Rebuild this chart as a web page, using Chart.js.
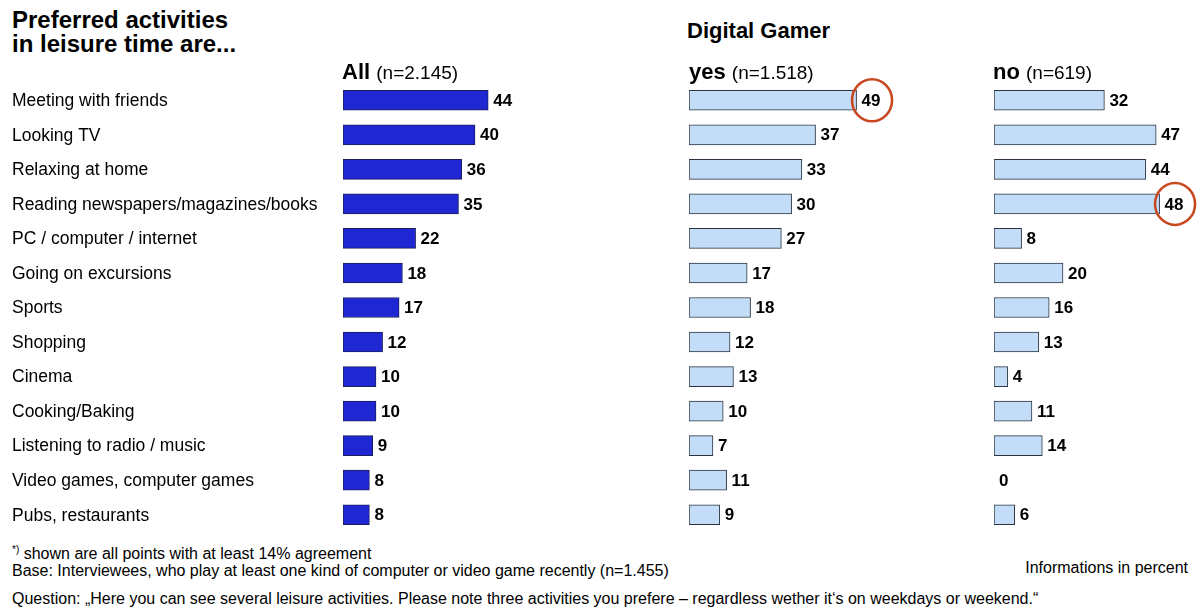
<!DOCTYPE html>
<html>
<head>
<meta charset="utf-8">
<script src="https://cdn.jsdelivr.net/npm/chart.js@4.4.1/dist/chart.umd.min.js"></script>
<style>
  body { margin: 0; width: 1200px; height: 610px; background: #fff; overflow: hidden;
         font-family: "Liberation Sans", Arial, sans-serif; color: #000; position: relative; }
  .t { position: absolute; white-space: nowrap; }
  .box { position: absolute; }
  .head { font-size: 22px; font-weight: bold; }
  .head span { font-weight: normal; font-size: 19px; }
  .foot { font-size: 16px; }
</style>
</head>
<body>
<div class="t" style="left:12px;top:8px;font-size:24px;font-weight:bold;line-height:24px;">Preferred activities<br>in leisure time are...</div>
<div class="t head" style="left:687px;top:18px;">Digital Gamer</div>

<div class="box" style="left:0;top:63px;width:560px;height:469px;"><canvas id="cAll"></canvas></div>
<div class="box" style="left:680px;top:63px;width:240px;height:469px;"><canvas id="cYes"></canvas></div>
<div class="box" style="left:985px;top:63px;width:215px;height:469px;"><canvas id="cNo"></canvas></div>

<div class="t head" style="left:342px;top:59px;">All <span>(n=2.145)</span></div>
<div class="t head" style="left:689px;top:59px;">yes <span>(n=1.518)</span></div>
<div class="t head" style="left:993px;top:59px;">no <span>(n=619)</span></div>

<div class="t foot" style="left:12px;top:544px;"><sup style="font-size:10px;">*)</sup> shown are all points with at least 14% agreement</div>
<div class="t foot" style="left:12px;top:562px;">Base: Interviewees, who play at least one kind of computer or video game recently (n=1.455)</div>
<div class="t foot" style="right:12px;top:559px;">Informations in percent</div>
<div class="t foot" style="left:12px;top:590px;">Question: „Here you can see several leisure activities. Please note three activities you prefere – regardless wether it‘s on weekdays or weekend.“</div>

<script>
// activities and shares (percent)
const activities = ["Meeting with friends", "Looking TV", "Relaxing at home",
  "Reading newspapers/magazines/books", "PC / computer / internet", "Going on excursions",
  "Sports", "Shopping", "Cinema", "Cooking/Baking", "Listening to radio / music",
  "Video games, computer games", "Pubs, restaurants"];
const allValues = [44, 40, 36, 35, 22, 18, 17, 12, 10, 10, 9, 8, 8];
const gamerYes  = [49, 37, 33, 30, 27, 17, 18, 12, 13, 10, 7, 11, 9];
const gamerNo   = [32, 47, 44, 48, 8, 20, 16, 13, 4, 11, 14, 0, 6];
// values to be ringed in red
const ringYes = [0];
const ringNo  = [3];

const FONT = '"Liberation Sans", Arial, sans-serif';

// value labels next to each bar, optional red ring, optional row names at the left edge
const valueLabels = {
  id: 'valueLabels',
  afterDatasetsDraw(chart, args, opts) {
    const ctx = chart.ctx;
    const meta = chart.getDatasetMeta(0);
    const data = chart.data.datasets[0].data;
    const yScale = chart.scales.y;
    ctx.save();
    ctx.textBaseline = 'middle';
    ctx.fillStyle = '#000';
    if (opts.names) {
      ctx.font = '17.5px ' + FONT;
      chart.data.labels.forEach((name, i) => {
        ctx.fillText(name, 12, yScale.getPixelForValue(i) + 1);
      });
    }
    ctx.font = 'bold 17px ' + FONT;
    meta.data.forEach((bar, i) => {
      const txt = String(data[i]);
      const x = bar.x + 5;
      ctx.fillText(txt, x, bar.y + 1);
      if ((opts.rings || []).includes(i)) {
        const w = ctx.measureText(txt).width;
        ctx.beginPath();
        ctx.strokeStyle = '#c8471f';
        ctx.lineWidth = 2.5;
        ctx.ellipse(x + w / 2 + 1, bar.y, 20, 21, 0, 0, Math.PI * 2);
        ctx.stroke();
      }
    });
    ctx.restore();
  }
};

function makeChart(id, values, fill, border, names, padLeft, padRight, rings) {
  return new Chart(document.getElementById(id), {
    type: 'bar',
    data: {
      labels: activities,
      datasets: [{
        data: values,
        backgroundColor: fill,
        borderColor: border,
        borderWidth: 1,
        borderSkipped: false,
        barThickness: 20
      }]
    },
    plugins: [valueLabels],
    options: {
      indexAxis: 'y',
      responsive: true,
      maintainAspectRatio: false,
      animation: false,
      layout: { padding: { left: padLeft, right: padRight, top: 20, bottom: 0 } },
      plugins: {
        legend: { display: false },
        tooltip: { enabled: false },
        valueLabels: { rings: rings, names: names }
      },
      scales: {
        x: { display: false, min: 0, max: 50 },
        y: { display: false }
      }
    }
  });
}

makeChart('cAll', allValues, '#1f27d2', '#1b1f5e', true, 343, 52, []);
makeChart('cYes', gamerYes, '#c3ddf8', '#2b3440', false, 9, 60, ringYes);
makeChart('cNo', gamerNo, '#c3ddf8', '#2b3440', false, 9, 33.5, ringNo);
</script>
</body>
</html>
